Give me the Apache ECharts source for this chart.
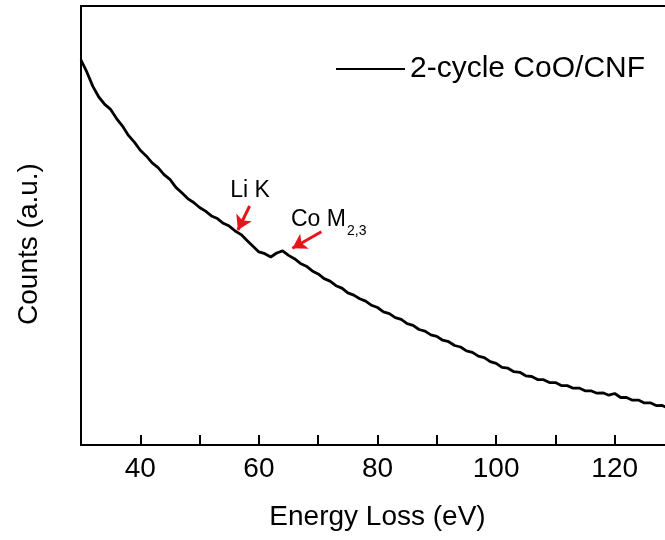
<!DOCTYPE html>
<html>
<head>
<meta charset="utf-8">
<title>EELS 2-cycle CoO/CNF</title>
<script src="https://cdn.jsdelivr.net/npm/echarts@6/dist/echarts.min.js"></script>
<style>
  html, body { margin: 0; padding: 0; background: #fff; }
  #main { width: 665px; height: 540px; }
</style>
</head>
<body>
<div id="main"></div>
<script>
// energy loss (eV), one point per eV
const energy = [
  30, 31, 32, 33, 34, 35, 36, 37, 38, 39,
  40, 41, 42, 43, 44, 45, 46, 47, 48, 49,
  50, 51, 52, 53, 54, 55, 56, 57, 58, 59,
  60, 61, 62, 63, 64, 65, 66, 67, 68, 69,
  70, 71, 72, 73, 74, 75, 76, 77, 78, 79,
  80, 81, 82, 83, 84, 85, 86, 87, 88, 89,
  90, 91, 92, 93, 94, 95, 96, 97, 98, 99,
  100, 101, 102, 103, 104, 105, 106, 107, 108, 109,
  110, 111, 112, 113, 114, 115, 116, 117, 118, 119,
  120, 121, 122, 123, 124, 125, 126, 127, 128, 129,
  130
]
// counts (a.u.), noise included
const counts = [
  385, 372.8, 358.6, 348.0, 340.6, 335.6, 326.4, 318.9, 309.6, 302.9,
  294.7, 289.1, 282.2, 277.3, 270.4, 265.6, 257.6, 252.3, 246.4, 242.5,
  237.5, 233.9, 229.1, 226.4, 221.7, 218.9, 214.0, 210.4, 204.6, 198.8,
  193.1, 191.3, 188.0, 192.0, 194.1, 189.6, 186.3, 181.6, 178.8, 174.1,
  171.1, 166.4, 163.9, 159.3, 156.9, 152.1, 149.9, 146.2, 143.9, 139.7,
  137.5, 133.2, 131.4, 127.3, 125.6, 121.4, 119.6, 115.5, 113.9, 110.1,
  108.6, 104.8, 103.3, 99.5, 98.0, 94.1, 92.7, 88.8, 87.4, 83.4,
  81.6, 77.6, 76.8, 73.3, 72.7, 69.2, 68.5, 65.4, 65.3, 62.4,
  62.4, 59.5, 59.4, 56.8, 56.9, 54.2, 54.2, 51.8, 52.2, 49.8,
  51.5, 47.5, 47.5, 44.8, 44.9, 42.1, 42.2, 39.4, 39.5, 36.8,
  36.9
]
const seriesName = '2-cycle CoO/CNF'
const majorTicks = [40, 60, 80, 100, 120]

// arrows: [from, to] in data coords
const liArrow = [[58.44, 239], [56.46, 215]]
const coArrow = [[70.53, 213.3], [65.64, 196.7]]

const font = 'Liberation Sans, Arial, sans-serif'
let chart = echarts.init(document.getElementById('main'), null, { renderer: 'canvas' })

let points = []
for (let i = 0; i < energy.length; i++) {
  points.push([energy[i], counts[i]])
}

function arrowLine(a) {
  return [{ coord: a[0] }, { coord: a[1] }]
}

let option = {
  animation: false,
  backgroundColor: '#fff',
  grid: {
    left: 81,
    top: 6,
    width: 593,
    height: 439,
    outerBoundsMode: 'none',
    containLabel: false,
    show: true,
    borderColor: '#000',
    borderWidth: 2
  },
  legend: {
    data: [seriesName],
    left: 336,
    top: 54,
    padding: 0,
    icon: 'rect',
    itemWidth: 69,
    itemHeight: 2,
    itemStyle: { borderWidth: 0 },
    textStyle: { fontSize: 30, color: '#000', fontFamily: font }
  },
  xAxis: [
    {
      type: 'value',
      min: 30,
      max: 130,
      interval: 10,
      name: 'Energy Loss (eV)',
      nameLocation: 'middle',
      nameGap: 58,
      nameTextStyle: { fontSize: 28, color: '#000', fontFamily: font },
      axisLine: { lineStyle: { color: '#000', width: 2 } },
      axisTick: {
        inside: true,
        length: 10,
        lineStyle: { color: '#000', width: 2 },
        interval: function (index, value) { return majorTicks.indexOf(value) >= 0 }
      },
      axisLabel: {
        margin: 10,
        fontSize: 28,
        color: '#000',
        fontFamily: font,
        formatter: function (v) { return majorTicks.indexOf(v) >= 0 ? String(v) : '' }
      },
      splitLine: { show: false }
    },
    {
      // minor ticks half way between labels
      type: 'value',
      position: 'bottom',
      min: 30,
      max: 130,
      interval: 10,
      axisLine: { show: false },
      axisTick: {
        inside: true,
        length: 6,
        lineStyle: { color: '#000', width: 2 },
        interval: function (index, value) { return value % 20 === 10 && value > 30 }
      },
      axisLabel: { show: false },
      splitLine: { show: false }
    }
  ],
  yAxis: {
    type: 'value',
    min: 0,
    max: 439,
    axisLine: { show: true, lineStyle: { color: '#000', width: 2 } },
    axisTick: { show: false },
    axisLabel: { show: false },
    splitLine: { show: false }
  },
  series: [
    {
      name: seriesName,
      type: 'line',
      xAxisIndex: 0,
      data: points,
      showSymbol: false,
      symbol: 'none',
      color: '#000',
      lineStyle: { color: '#000', width: 2.8 },
      markLine: {
        silent: true,
        symbol: ['none', 'arrow'],
        symbolSize: [13, 14],
        label: { show: false },
        lineStyle: { color: '#e8141c', width: 3, type: 'solid' },
        data: [arrowLine(liArrow), arrowLine(coArrow)]
      }
    }
  ],
  graphic: [
    {
      type: 'text',
      x: 29, y: 244,
      rotation: Math.PI / 2,
      style: {
        text: 'Counts (a.u.)', fontSize: 28, fontFamily: font, fill: '#000',
        align: 'center', verticalAlign: 'middle'
      }
    },
    {
      type: 'text',
      x: 250, y: 191,
      style: {
        text: 'Li K', fontSize: 23, fontFamily: font, fill: '#000',
        align: 'center', verticalAlign: 'middle'
      }
    },
    {
      type: 'text',
      x: 291, y: 220,
      style: {
        text: 'Co M', fontSize: 23, fontFamily: font, fill: '#000',
        align: 'left', verticalAlign: 'middle'
      }
    },
    {
      type: 'text',
      x: 347, y: 231,
      style: {
        text: '2,3', fontSize: 14, fontFamily: font, fill: '#000',
        align: 'left', verticalAlign: 'middle'
      }
    }
  ]
}

chart.setOption(option)
</script>
</body>
</html>
